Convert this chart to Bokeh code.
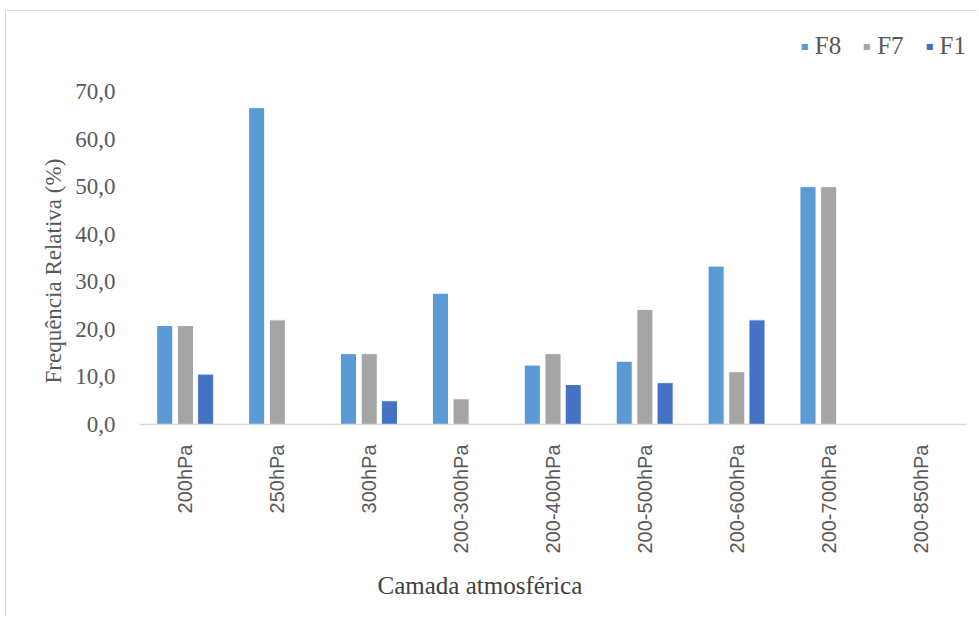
from bokeh.plotting import figure
from bokeh.models import (ColumnDataSource, FactorRange, Range1d, FixedTicker,
                          CustomJSTickFormatter, Legend, LegendItem, Title)
from bokeh.transform import dodge
from bokeh.embed import file_html
from bokeh.resources import INLINE
import math

categories = ["200hPa", "250hPa", "300hPa", "200-300hPa", "200-400hPa",
              "200-500hPa", "200-600hPa", "200-700hPa", "200-850hPa"]
F8 = [20.8, 66.6, 14.9, 27.6, 12.5, 13.3, 33.3, 50.0, 0.0]
F7 = [20.8, 22.0, 14.9, 5.4, 14.9, 24.2, 11.1, 50.0, 0.0]
F1 = [10.6, 0.0, 5.0, 0.0, 8.4, 8.8, 22.0, 0.0, 0.0]
y_ticks = [0, 10, 20, 30, 40, 50, 60, 70]
series_names = ["F8", "F7", "F1"]
colors = ["#5B9BD5", "#A5A5A5", "#4472C4"]

src = ColumnDataSource(data=dict(cat=categories, F8=F8, F7=F7, F1=F1))

W, H = 972, 606
p = figure(width=W, height=H, x_range=FactorRange(*categories),
           y_range=Range1d(0, 82.4), output_backend="svg",
           toolbar_location=None, min_border_left=133, min_border_right=12,
           min_border_top=21, min_border_bottom=193)
p.styles = {"border-top": "1px solid #d9d9d9", "border-left": "1px solid #d9d9d9",
            "margin-left": "5px", "margin-top": "10px"}
p.outline_line_color = None
p.xgrid.grid_line_color = None
p.ygrid.grid_line_color = None
p.x_range.range_padding = 0

offsets = [-0.225, 0.0, 0.22]
renderers = []
for name, col, off in zip(series_names, colors, offsets):
    r = p.vbar(x=dodge("cat", off, range=p.x_range), top=name, width=0.175,
               source=src, fill_color=col, line_color="#ffffff", line_width=1)
    renderers.append(r)

serif = "Liberation Serif"
p.yaxis.ticker = FixedTicker(ticks=y_ticks)
p.yaxis.formatter = CustomJSTickFormatter(code="return tick.toFixed(1).replace('.', ',');")
p.yaxis.axis_line_color = None
p.yaxis.major_tick_line_color = None
p.yaxis.minor_tick_line_color = None
p.yaxis.major_label_text_font = serif
p.yaxis.major_label_text_font_size = "23px"
p.yaxis.major_label_text_color = "#595959"
p.yaxis.major_label_standoff = 18

p.xaxis.axis_line_color = "#d9d9d9"
p.xaxis.axis_line_width = 1.5
p.xaxis.major_tick_line_color = None
p.xaxis.minor_tick_line_color = None
p.xaxis.major_label_orientation = math.pi / 2
p.xaxis.major_label_text_font = "Liberation Sans"
p.xaxis.major_label_text_font_size = "20px"
p.xaxis.major_label_text_color = "#595959"
p.xaxis.major_label_standoff = 14

xt = Title(text="Camada atmosférica", align="left", offset=238, standoff=26,
           text_font=serif, text_font_size="25px", text_font_style="normal",
           text_color="#404040")
yt = Title(text="Frequência Relativa (%)", align="left", offset=41, standoff=14,
           text_font=serif, text_font_size="23px", text_font_style="normal",
           text_color="#595959")
p.add_layout(xt, "below")
p.add_layout(yt, "left")

legend = Legend(items=[LegendItem(label=n, renderers=[r]) for n, r in zip(series_names, renderers)],
                orientation="horizontal", location="top_right",
                glyph_width=9, glyph_height=9, label_standoff=6, spacing=21,
                label_text_font=serif, label_text_font_size="25px",
                label_text_color="#595959", border_line_color=None,
                background_fill_alpha=0, padding=0, margin=0)
p.add_layout(legend, "center")

open("out.html", "w").write(file_html(p, INLINE))
